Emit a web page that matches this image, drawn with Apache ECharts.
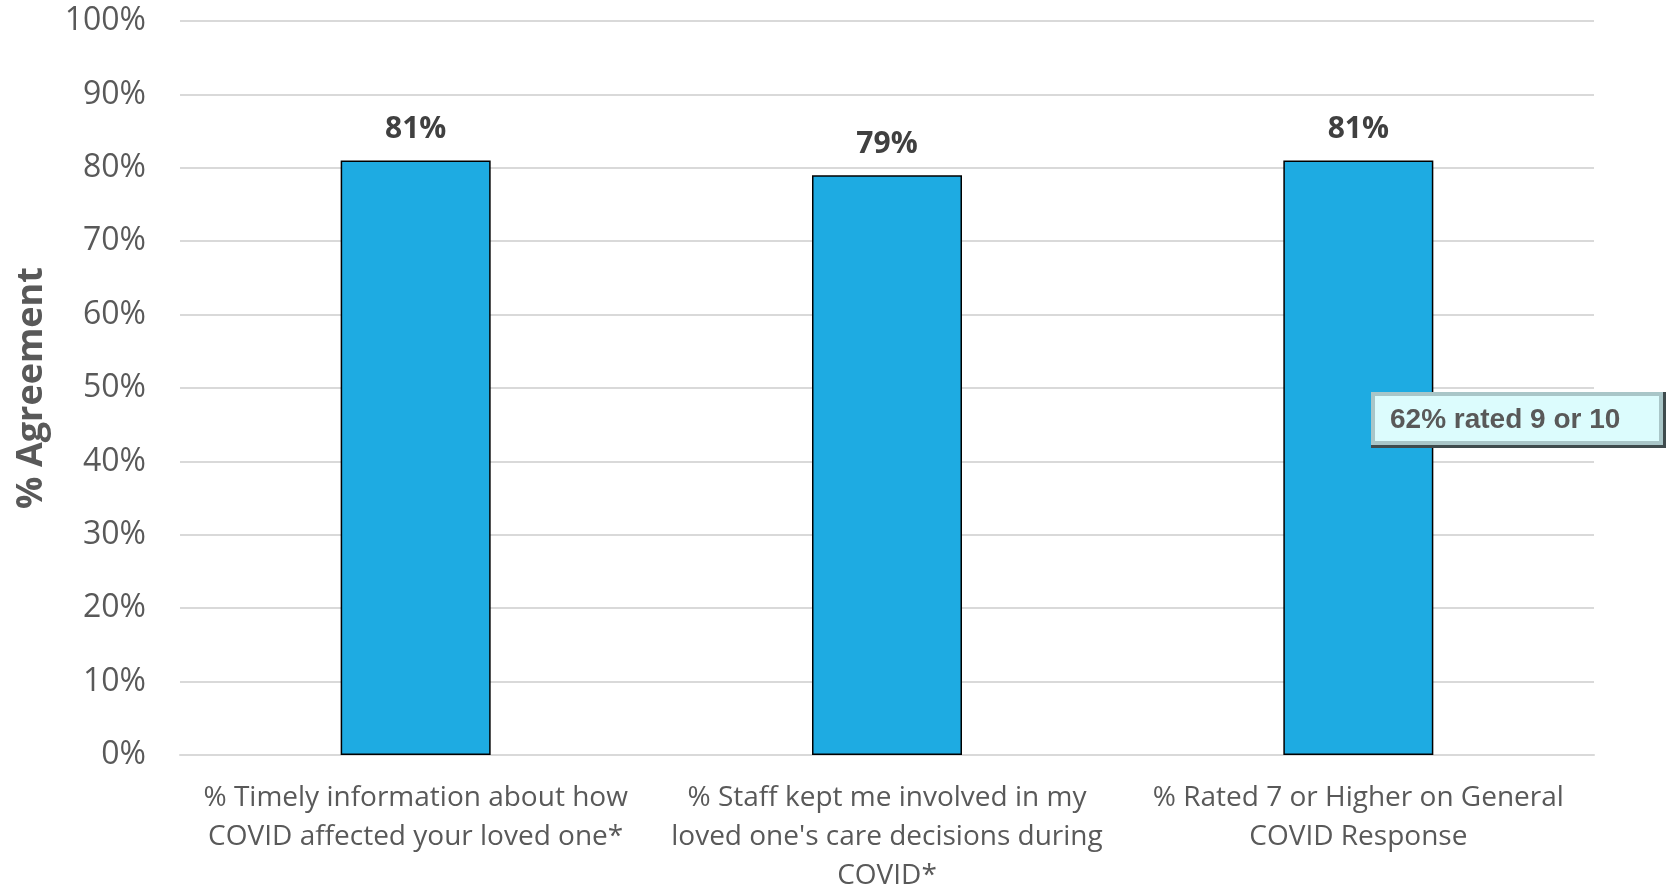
<!DOCTYPE html>
<html>
<head>
<meta charset="utf-8">
<script src="https://cdn.jsdelivr.net/npm/echarts@6/dist/echarts.min.js"></script>
<style>
html,body{margin:0;padding:0;background:#fff;}
#chart{width:1673px;height:887px;}
</style>
</head>
<body>
<div id="chart"></div>
<script>
// data
var categories = [
    '% Timely information about how\nCOVID affected your loved one*',
    "% Staff kept me involved in my\nloved one's care decisions during\nCOVID*",
    '% Rated 7 or Higher on General\nCOVID Response'
];
var agreement = [81, 79, 81];
var yTicks = [0, 100, 10]; // min, max, step
var noteText = '62% rated 9 or 10';

var chart = echarts.init(document.getElementById('chart'));

var option = {
    animation: false,
    grid: {
        left: 180,
        right: 79,
        top: 21,
        bottom: 132,
        outerBoundsMode: 'none',
        containLabel: false
    },
    xAxis: {
        type: 'category',
        data: categories,
        axisLine: { lineStyle: { color: '#d9d9d9', width: 2 } },
        axisTick: { show: false },
        axisLabel: {
            interval: 0,
            margin: 24,
            color: '#595959',
            fontFamily: 'Open Sans',
            fontSize: 28,
            lineHeight: 39
        }
    },
    yAxis: {
        type: 'value',
        min: yTicks[0],
        max: yTicks[1],
        interval: yTicks[2],
        name: '% Agreement',
        nameLocation: 'middle',
        nameRotate: 90,
        nameGap: 130,
        nameTextStyle: {
            color: '#595959',
            fontFamily: 'Open Sans',
            fontWeight: 'bold',
            fontSize: 36
        },
        axisLine: { show: false },
        axisTick: { show: false },
        splitLine: { lineStyle: { color: '#d9d9d9', width: 2 } },
        axisLabel: {
            margin: 34,
            color: '#595959',
            fontFamily: 'Open Sans',
            fontSize: 32,
            formatter: '{value}%'
        }
    },
    series: [{
        type: 'bar',
        data: agreement,
        barWidth: 150,
        itemStyle: {
            color: '#1eabe2',
            borderColor: '#000',
            borderWidth: 1.5
        },
        label: {
            show: true,
            position: 'top',
            distance: 16,
            color: '#404040',
            fontFamily: 'Open Sans',
            fontWeight: 'bold',
            fontSize: 30,
            formatter: '{c}%'
        }
    }],
    graphic: [{
        type: 'group',
        left: 1371,
        top: 392,
        z: 100,
        children: [
            { type: 'rect', z: 100, shape: { x: 0, y: 0, width: 295, height: 56 }, style: { fill: '#3f4b4d' } },
            { type: 'rect', z: 101, shape: { x: 0, y: 0, width: 292, height: 53 }, style: { fill: '#a9c6c8' } },
            { type: 'rect', z: 102, shape: { x: 4, y: 4, width: 284, height: 45 }, style: { fill: '#dcfcfd' } },
            {
                type: 'text',
                z: 103,
                x: 19,
                y: 28,
                style: {
                    text: noteText,
                    fill: '#595959',
                    fontFamily: 'Liberation Sans',
                    fontWeight: 'bold',
                    fontSize: 28,
                    verticalAlign: 'middle'
                }
            }
        ]
    }]
};

chart.setOption(option);
</script>
</body>
</html>
